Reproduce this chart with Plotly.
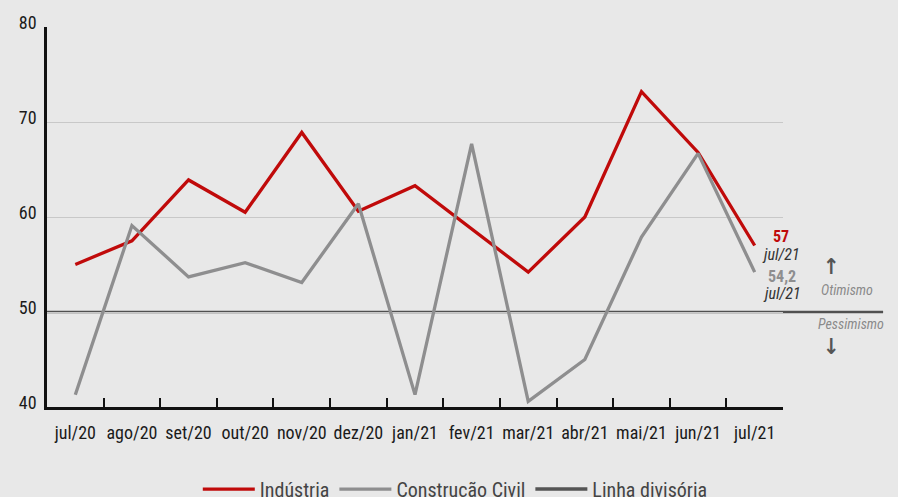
import plotly.graph_objects as go

months = ["jul/20", "ago/20", "set/20", "out/20", "nov/20", "dez/20", "jan/21",
          "fev/21", "mar/21", "abr/21", "mai/21", "jun/21", "jul/21"]
industria = [55.0, 57.5, 63.9, 60.5, 68.9, 60.6, 63.3, 58.8, 54.2, 60.0, 73.2, 66.8, 57.0]
construcao = [41.3, 59.1, 53.7, 55.2, 53.1, 61.4, 41.3, 67.7, 40.6, 45.0, 57.9, 66.7, 54.2]
divisoria = 50
y_ticks = [40, 50, 60, 70, 80]

FONT = "Roboto Condensed, Liberation Sans Narrow, DejaVu Sans Condensed, sans-serif"
BG = "#e8e8e8"
RED = "#c00a0a"
GRAY = "#8e8e8f"
DARK = "#555555"

fig = go.Figure()
fig.add_trace(go.Scatter(x=months, y=industria, mode="lines", name="Indústria",
                         line=dict(color=RED, width=3.3), cliponaxis=False))
fig.add_trace(go.Scatter(x=months, y=construcao, mode="lines", name="Construção Civil",
                         line=dict(color=GRAY, width=3.3), cliponaxis=False))
fig.add_trace(go.Scatter(x=[None], y=[None], mode="lines", name="Linha divisória",
                         line=dict(color=DARK, width=3.5)))

fig.add_shape(type="line", xref="paper", yref="y", x0=0, x1=1.136,
              y0=divisoria, y1=divisoria, line=dict(color="#505050", width=2.5), layer="between")

last = len(months) - 1
fig.add_annotation(x=months[last], y=industria[last], text="<b>57</b>", showarrow=False,
                   xanchor="center", xshift=26, yshift=9, font=dict(family=FONT, size=16, color=RED))
fig.add_annotation(x=months[last], y=industria[last], text="<i>jul/21</i>", showarrow=False,
                   xanchor="center", xshift=26, yshift=-9, font=dict(family=FONT, size=16, color="#333333"))
fig.add_annotation(x=months[last], y=construcao[last], text="<b>54,2</b>", showarrow=False,
                   xanchor="center", xshift=27, yshift=-4, font=dict(family=FONT, size=16, color=GRAY))
fig.add_annotation(x=months[last], y=construcao[last], text="<i>jul/21</i>", showarrow=False,
                   xanchor="center", xshift=27, yshift=-21, font=dict(family=FONT, size=16, color="#333333"))

fig.add_annotation(xref="paper", yref="y", x=1.066, y=divisoria, text="<b>↑</b>", xanchor="center",
                   showarrow=False, yshift=46, font=dict(family=FONT, size=22, color=DARK))
fig.add_annotation(xref="paper", yref="y", x=1.087, y=divisoria, text="<i>Otimismo</i>", xanchor="center",
                   showarrow=False, yshift=22, font=dict(family=FONT, size=14, color="#8a8a8a"))
fig.add_annotation(xref="paper", yref="y", x=1.092, y=divisoria, text="<i>Pessimismo</i>", xanchor="center",
                   showarrow=False, yshift=-12, font=dict(family=FONT, size=14, color="#8a8a8a"))
fig.add_annotation(xref="paper", yref="y", x=1.066, y=divisoria, text="<b>↓</b>", xanchor="center",
                   showarrow=False, yshift=-34, font=dict(family=FONT, size=22, color=DARK))

fig.update_layout(
    width=898, height=497,
    paper_bgcolor=BG, plot_bgcolor=BG,
    margin=dict(l=47, r=115, t=16, b=90),
    font=dict(family=FONT, size=18, color="#222222"),
    showlegend=True,
    legend=dict(orientation="h", x=0.507, xanchor="center", xref="container",
                y=0.016, yanchor="middle", yref="container",
                font=dict(family=FONT, size=20, color="#444444"),
                bgcolor="rgba(0,0,0,0)", itemwidth=52, tracegroupgap=0),
    xaxis=dict(type="category", range=[-0.5, 12.5], showgrid=False,
               showline=True, linecolor="#111111", linewidth=2.5,
               ticks="inside", ticklen=9, tickwidth=2, tickcolor="#111111",
               tickson="boundaries", ticklabelstandoff=8, tickangle=0,
               tickfont=dict(family=FONT, size=18, color="#1a1a1a"), zeroline=False),
    yaxis=dict(range=[40, 80], tickvals=y_ticks, showgrid=True, gridcolor="#c8c8c8",
               gridwidth=1, showline=True, linecolor="#111111", linewidth=2.5,
               ticks="", ticklabelstandoff=4, ticklabelshift=-4,
               tickfont=dict(family=FONT, size=18, color="#1a1a1a"), zeroline=False),
)

fig.write_html("out.html", config={"displayModeBar": False},
               post_script="document.body.style.margin='0';document.body.style.background='#e8e8e8';")
